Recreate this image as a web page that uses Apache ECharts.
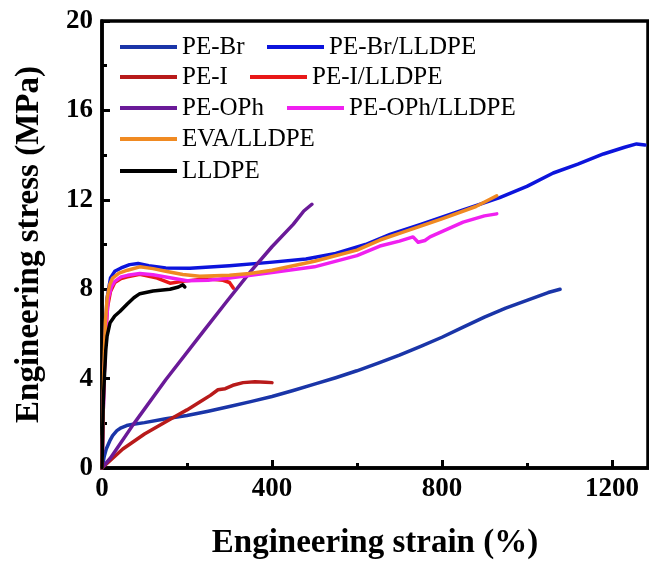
<!DOCTYPE html>
<html>
<head>
<meta charset="utf-8">
<script src="https://cdn.jsdelivr.net/npm/echarts@6/dist/echarts.min.js"></script>
<style>
html, body { margin: 0; padding: 0; background: #fff; }
#chart { width: 649px; height: 565px; }
</style>
</head>
<body>
<div id="chart"></div>
<script>
// stress-strain curves, [strain %, stress MPa]
let peBr = [[0,0],[5,0.5],[10,0.85],[18,1.2],[25,1.45],[35,1.67],[45,1.8],[58,1.9],[70,1.95],[100,2.03],[150,2.2],[200,2.35],[250,2.54],[300,2.75],[350,2.97],[400,3.2],[450,3.47],[500,3.75],[550,4.04],[600,4.35],[650,4.69],[700,5.05],[750,5.44],[800,5.85],[850,6.3],[900,6.75],[950,7.15],[1000,7.5],[1050,7.85],[1078,8.0]]
let peBrLldpe = [[0,0],[4,3.5],[8,6.2],[12,7.6],[20,8.5],[30,8.8],[45,8.95],[65,9.1],[85,9.15],[110,9.05],[150,8.95],[207,8.94],[300,9.05],[395,9.2],[480,9.35],[550,9.6],[620,10.0],[678,10.45],[750,10.9],[850,11.55],[936,12.1],[1000,12.6],[1062,13.2],[1120,13.6],[1180,14.05],[1230,14.35],[1258,14.5],[1278,14.45]]
let peI = [[0,0],[49,0.85],[100,1.52],[140,1.96],[172,2.3],[200,2.6],[230,2.95],[255,3.25],[273,3.5],[290,3.55],[308,3.7],[332,3.82],[360,3.86],[385,3.84],[400,3.82]]
let peILldpe = [[0,0],[4,3.5],[8,5.8],[13,7.2],[20,7.9],[30,8.3],[45,8.48],[60,8.55],[89,8.67],[130,8.5],[160,8.27],[190,8.35],[230,8.44],[260,8.45],[285,8.4],[300,8.3],[309,8.05]]
let peOph = [[0,0],[20,0.45],[73,1.93],[150,3.95],[238,6.1],[294,7.46],[350,8.8],[400,9.9],[450,10.9],[475,11.5],[494,11.8]]
let peOphLldpe = [[0,0],[4,3.5],[9,6.2],[15,7.6],[22,8.1],[30,8.35],[45,8.55],[60,8.62],[89,8.7],[120,8.65],[150,8.55],[200,8.38],[250,8.4],[300,8.5],[400,8.75],[500,9.0],[600,9.5],[654,9.93],[700,10.15],[732,10.34],[744,10.1],[760,10.18],[772,10.34],[850,11.0],[900,11.28],[929,11.37]]
let evaLldpe = [[0,0],[4,4.2],[8,6.5],[12,7.6],[18,8.2],[25,8.5],[40,8.72],[60,8.85],[89,9.0],[120,8.92],[150,8.8],[190,8.66],[230,8.58],[300,8.62],[348,8.7],[400,8.85],[500,9.25],[600,9.75],[654,10.2],[700,10.5],[800,11.15],[880,11.7],[929,12.18]]
let lldpe = [[0,0],[3,3],[6,4.2],[9,5.3],[12,5.9],[19,6.5],[30,6.8],[42,7.0],[60,7.35],[75,7.62],[89,7.8],[120,7.92],[160,8.0],[180,8.1],[190,8.2],[195,8.1]]

let names = ['PE-Br','PE-Br/LLDPE','PE-I','PE-I/LLDPE','PE-OPh','PE-OPh/LLDPE','EVA/LLDPE','LLDPE']
let colors = ['#1a35a8','#0c14dc','#b81a1a','#e81818','#6a1a98','#f020f0','#f08a22','#000000']
let curves = [peBr, peBrLldpe, peI, peILldpe, peOph, peOphLldpe, evaLldpe, lldpe]

let font = '"Liberation Serif", "Times New Roman", serif'
// legend item positions [name, left, rowCenterY]
let legendPos = [
    ['PE-Br',120,47],['PE-Br/LLDPE',267,47],
    ['PE-I',120,77],['PE-I/LLDPE',250,77],
    ['PE-OPh',120,108],['PE-OPh/LLDPE',287,108],
    ['EVA/LLDPE',120,139],
    ['LLDPE',120,171]
]

let chart = echarts.init(document.getElementById('chart'))
let option = {
    animation: false,
    grid: {
        left: 102, right: 1, top: 21, bottom: 97,
        show: true, borderColor: '#000', borderWidth: 3.5
    },
    legend: legendPos.map(p => ({
        data: [p[0]],
        left: p[1],
        top: p[2] - 13,
        padding: 0,
        icon: 'rect',
        itemWidth: 57,
        itemHeight: 4,
        itemGap: 0,
        textStyle: { fontFamily: font, fontSize: 25, lineHeight: 26, color: '#000', padding: [0,0,0,0] }
    })),
    xAxis: {
        type: 'value',
        min: 0, max: 1285, interval: 400,
        name: 'Engineering strain (%)',
        nameLocation: 'middle',
        nameGap: 59,
        nameTextStyle: { fontFamily: font, fontSize: 33, fontWeight: 'bold', color: '#000' },
        axisLine: { lineStyle: { color: '#000', width: 3.5 } },
        axisTick: { inside: true, length: 8, lineStyle: { width: 3 } },
        minorTick: { show: true, splitNumber: 2, length: 5, lineStyle: { color: '#000', width: 3 } },
        axisLabel: {
            margin: 8, fontFamily: font, fontSize: 27, fontWeight: 'bold', color: '#000', showMaxLabel: false,
            formatter: v => String(v)
        },
        splitLine: { show: false }
    },
    yAxis: {
        type: 'value',
        min: 0, max: 20, interval: 4,
        name: 'Engineering stress (MPa)',
        nameLocation: 'middle',
        nameGap: 56,
        nameTextStyle: { fontFamily: font, fontSize: 33, fontWeight: 'bold', color: '#000' },
        axisLine: { lineStyle: { color: '#000', width: 3.5 } },
        axisTick: { inside: true, length: 8, lineStyle: { width: 3 } },
        minorTick: { show: true, splitNumber: 2, length: 5, lineStyle: { color: '#000', width: 3 } },
        axisLabel: { margin: 9, fontFamily: font, fontSize: 27, fontWeight: 'bold', color: '#000' },
        splitLine: { show: false }
    },
    series: curves.map((d, i) => ({
        name: names[i],
        type: 'line',
        data: d,
        showSymbol: false,
        smooth: false,
        color: colors[i],
        lineStyle: { width: 3.5, color: colors[i], join: 'round', cap: 'round' }
    }))
}
chart.setOption(option)
</script>
</body>
</html>
